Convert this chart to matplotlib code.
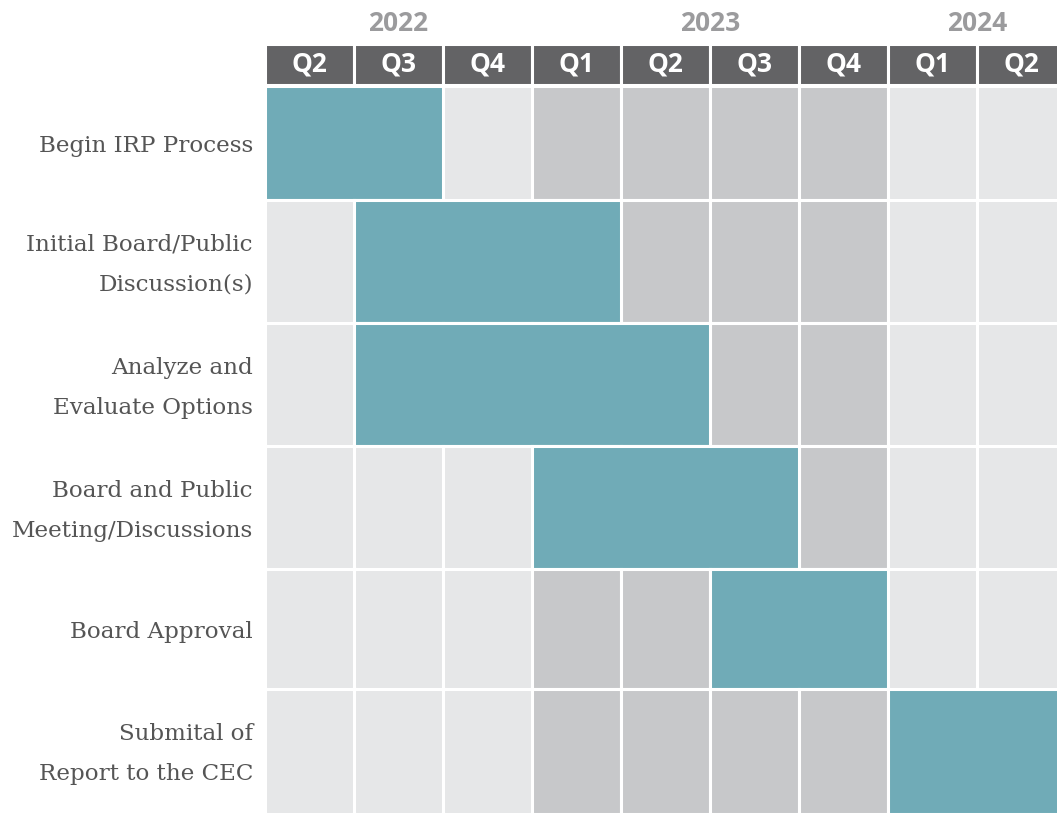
import matplotlib.pyplot as plt
from matplotlib.patches import Rectangle

# data
years = ['2022', '2023', '2024']
quarters = ['Q2', 'Q3', 'Q4', 'Q1', 'Q2', 'Q3', 'Q4', 'Q1', 'Q2']
quarter_year = ['2022', '2022', '2022', '2023', '2023', '2023', '2023', '2024', '2024']
tasks = ['Begin IRP Process',
         'Initial Board/Public\nDiscussion(s)',
         'Analyze and\nEvaluate Options',
         'Board and Public\nMeeting/Discussions',
         'Board Approval',
         'Submital of\nReport to the CEC']
task_start = [0, 1, 1, 3, 5, 7]   # first quarter column
task_end = [2, 4, 5, 6, 7, 9]     # column after last quarter

TEAL = '#70abb7'
LIGHT = '#e6e7e8'
DARK = '#c7c8ca'
HEAD = '#636365'
YEARC = '#9b9b9d'
LABC = '#555555'

W, H = 1057, 814
fig = plt.figure(figsize=(W / 100, H / 100), dpi=100, facecolor='white')

left = 265
col_w = 89       # px per quarter, last column runs off the edge
grid_top = 86
head_top, head_bot = 44, 85
row_h = [114, 123, 123, 122, 120, 125]  # layout only

ax = fig.add_axes([left / W, 0, (W - left) / W, (H - grid_top) / H])
hx = fig.add_axes([left / W, (H - head_bot) / H, (W - left) / W, (head_bot - head_top) / H])

ncol = len(quarters)
xmax = (W - left) / col_w
total = sum(row_h)
ax.set_xlim(0, xmax)
ax.set_ylim(total, 0)
ax.axis('off')
hx.set_xlim(0, xmax)
hx.set_ylim(1, 0)
hx.axis('off')

lw = 2.2
y0 = 0
for r, task in enumerate(tasks):
    h = row_h[r]
    for c in range(ncol):
        col = DARK if quarter_year[c] == '2023' else LIGHT
        ax.add_patch(Rectangle((c, y0), 1, h, facecolor=col, edgecolor='white', lw=lw))
    ax.add_patch(Rectangle((task_start[r], y0), task_end[r] - task_start[r], h,
                           facecolor=TEAL, edgecolor='white', lw=lw))
    ax.text(-0.135, y0 + h / 2 + 3, task, ha='right', va='center', fontsize=16.6,
            family='DejaVu Serif', color=LABC, linespacing=2.05, clip_on=False)
    y0 += h

for c, q in enumerate(quarters):
    hx.add_patch(Rectangle((c, 0), 1, 1, facecolor=HEAD, edgecolor='white', lw=lw))
    hx.text(c + 0.5, 0.5, q, ha='center', va='center', fontsize=19,
            family='Open Sans', weight='bold', color='white', clip_on=True)

for y in years:
    cols = [c for c, qy in enumerate(quarter_year) if qy == y]
    xc = (min(cols) + max(cols) + 1) / 2
    hx.text(xc, -0.5, y, ha='center', va='center', fontsize=19,
            family='Open Sans', weight='bold', color=YEARC, clip_on=False)

fig.savefig('out.png', dpi=100, facecolor='white')
